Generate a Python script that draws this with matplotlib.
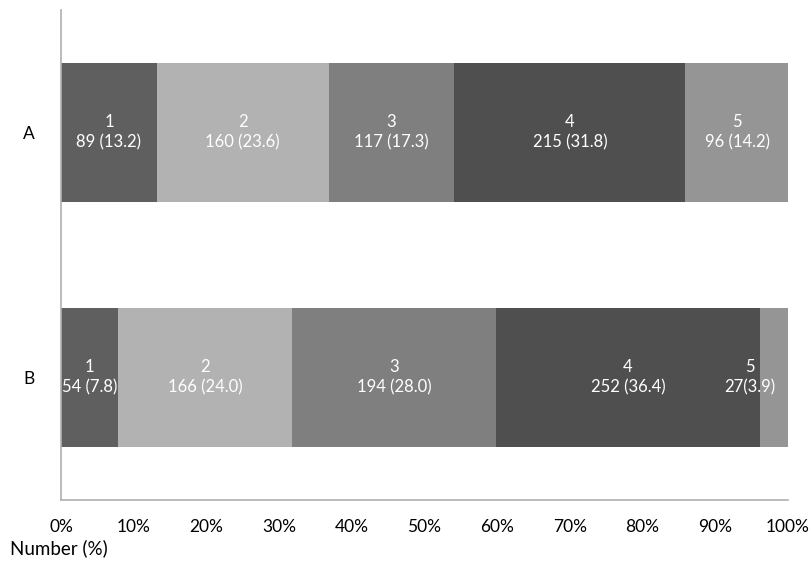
import numpy as np
import matplotlib.pyplot as plt

plt.rcParams['font.family'] = ['Lato', 'DejaVu Sans']

groups = ['A', 'B']
segments = ['1', '2', '3', '4', '5']
counts_a = [89, 160, 117, 215, 96]
pct_a = [13.2, 23.6, 17.3, 31.8, 14.2]
counts_b = [54, 166, 194, 252, 27]
pct_b = [7.8, 24.0, 28.0, 36.4, 3.9]
colors = ['#5f5f5f', '#b2b2b2', '#7f7f7f', '#4f4f4f', '#959595']
xticks = [0, 10, 20, 30, 40, 50, 60, 70, 80, 90, 100]

counts = [counts_a, counts_b]
pcts = [pct_a, pct_b]

fig = plt.figure(figsize=(8.1, 5.63), dpi=100)
ax = fig.add_axes([0.0753, 0.1119, 0.8975, 0.8703])

ypos = [1, 0]
for g in range(len(groups)):
	left = 0
	for s in range(len(segments)):
		w = pcts[g][s]
		ax.barh(ypos[g], w, left=left, height=0.57, color=colors[s], edgecolor='none')
		# last tiny segment of B gets its label pushed left
		if g == 1 and s == 4:
			dx = -18
			txt = f'{segments[s]}\n{counts[g][s]}({w:.1f})'
		else:
			dx = 0
			txt = f'{segments[s]}\n{counts[g][s]} ({w:.1f})'
		ax.annotate(txt, (left + w / 2, ypos[g]), xytext=(dx, 0), textcoords='offset points',
			ha='center', va='center', color='white', fontsize=12, linespacing=1.3)
		left += w

ax.set_xlim(0, 100)
ax.set_ylim(-0.5, 1.5)
ax.set_xticks(xticks)
ax.set_xticklabels([f'{t}%' for t in xticks], fontsize=12.5)
ax.set_yticks(ypos)
ax.set_yticklabels(groups, fontsize=12.5)
ax.tick_params(length=0)
ax.tick_params(axis='y', pad=19)
ax.tick_params(axis='x', pad=14)
for sp in ['top', 'right']:
	ax.spines[sp].set_visible(False)
for sp in ['left', 'bottom']:
	ax.spines[sp].set_color('#b0b0b0')
	ax.spines[sp].set_linewidth(1.2)

fig.text(0.012, 1 - 548 / 563, 'Number (%)', fontsize=13.5, va='center', ha='left')

plt.savefig('out.png', dpi=100)
